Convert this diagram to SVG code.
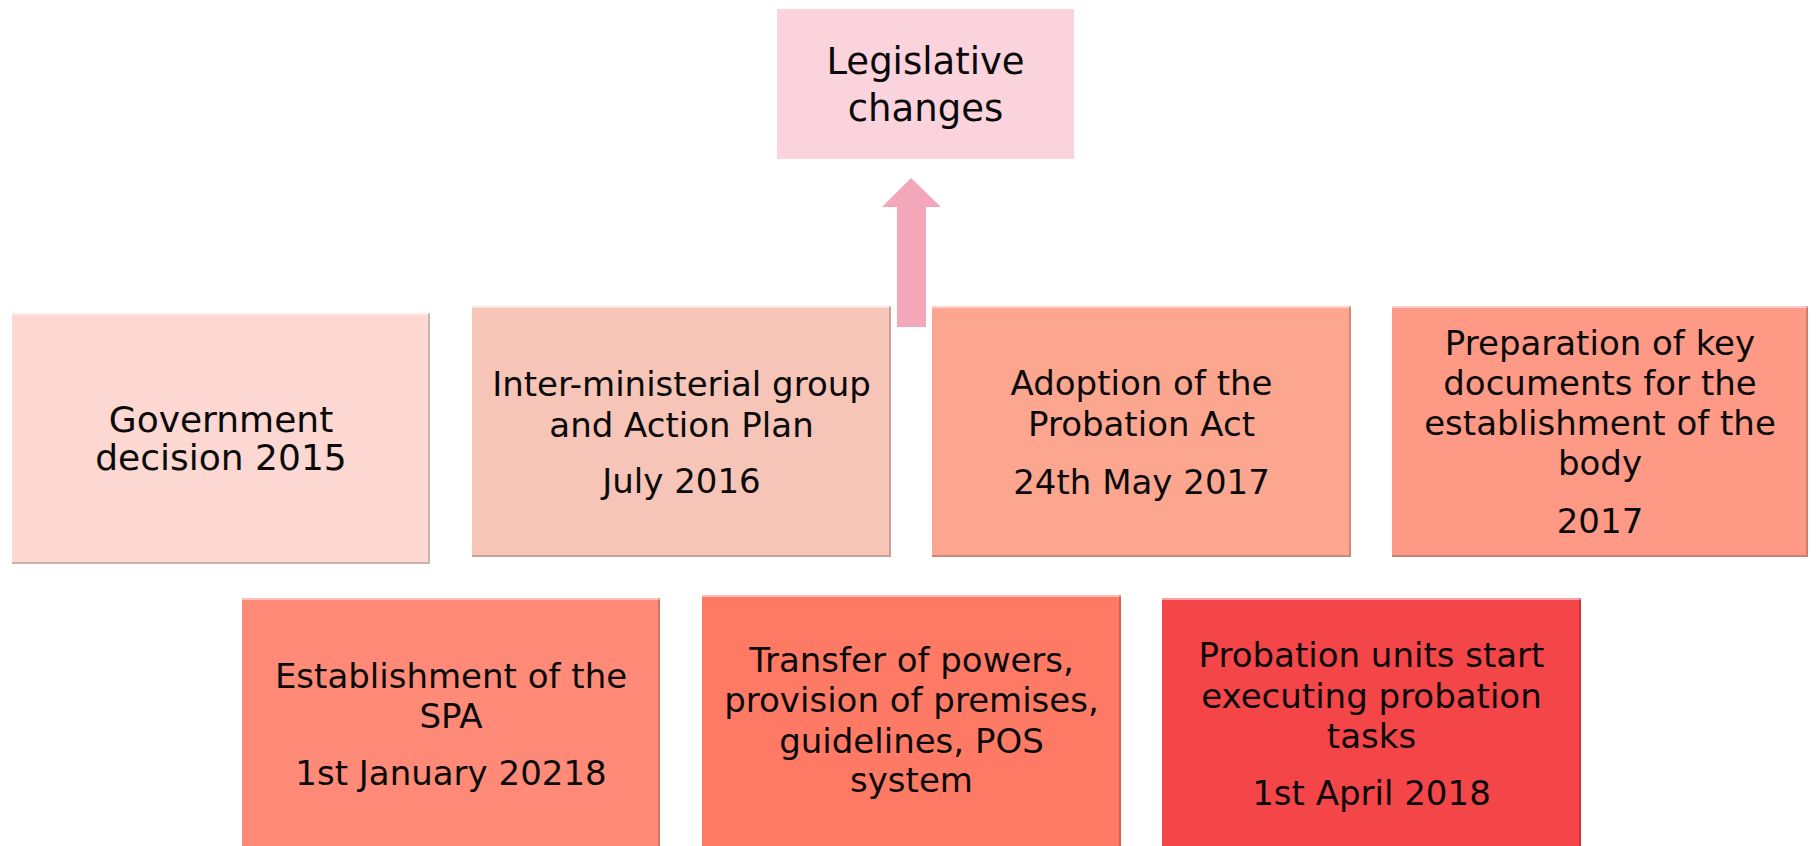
<svg xmlns="http://www.w3.org/2000/svg" width="1817" height="846" viewBox="0 0 1817 846">
<style>
  text { font-family: "DejaVu Sans", "Liberation Sans", sans-serif; font-size: 34px; fill: #0a0a0a; text-anchor: middle; }
  .big { font-size: 37px; }
  .g1 { font-size: 36px; }
  .edge { fill: none; stroke: #000; stroke-opacity: 0.18; stroke-width: 2; }
  .hl { fill: none; stroke: #fff; stroke-opacity: 0.5; stroke-width: 2; }
</style>
<rect width="1817" height="846" fill="#ffffff"/>

<g id="connectors">
  <polygon points="911,178 941,207 926,207 926,327 897,327 897,207 882,207" fill="#F4A7B9"/>
</g>

<g id="legislative">
  <rect x="777" y="9" width="297" height="150" fill="#FAD3DC"/>
  <text class="big" x="925.5" y="74">Legislative</text>
  <text class="big" x="925.5" y="121">changes</text>
</g>

<g id="gov2015">
  <rect x="12" y="313" width="418" height="251" fill="#FDD8D2"/>
  <path class="hl" d="M12,314 H430"/>
  <path class="edge" d="M429,313 V563 H12"/>
  <text class="g1" x="221" y="432">Government</text>
  <text class="g1" x="221" y="470">decision 2015</text>
</g>

<g id="interministerial">
  <rect x="472" y="306" width="419" height="251" fill="#F6C5B7"/>
  <path class="hl" d="M472,307 H891"/>
  <path class="edge" d="M890,306 V556 H472"/>
  <text x="681.5" y="396">Inter-ministerial group</text>
  <text x="681.5" y="437">and Action Plan</text>
  <text x="681.5" y="493">July 2016</text>
</g>

<g id="probationact">
  <rect x="932" y="306" width="419" height="251" fill="#FCA690"/>
  <path class="hl" d="M932,307 H1351"/>
  <path class="edge" d="M1350,306 V556 H932"/>
  <text x="1141.5" y="395">Adoption of the</text>
  <text x="1141.5" y="436">Probation Act</text>
  <text x="1141.5" y="494">24th May 2017</text>
</g>

<g id="keydocs">
  <rect x="1392" y="306" width="416" height="251" fill="#FD9985"/>
  <path class="hl" d="M1392,307 H1808"/>
  <path class="edge" d="M1807,306 V556 H1392"/>
  <text x="1600" y="355">Preparation of key</text>
  <text x="1600" y="395">documents for the</text>
  <text x="1600" y="435">establishment of the</text>
  <text x="1600" y="475">body</text>
  <text x="1600" y="533">2017</text>
</g>

<g id="spa">
  <rect x="242" y="598" width="418" height="251" fill="#FE8A77"/>
  <path class="hl" d="M242,599 H660"/>
  <path class="edge" d="M659,598 V849"/>
  <text x="451" y="688">Establishment of the</text>
  <text x="451" y="728">SPA</text>
  <text x="451" y="785">1st January 20218</text>
</g>

<g id="transfer">
  <rect x="702" y="595" width="419" height="254" fill="#FE7A65"/>
  <path class="hl" d="M702,596 H1121"/>
  <path class="edge" d="M1120,595 V849"/>
  <text x="911.5" y="672">Transfer of powers,</text>
  <text x="911.5" y="712">provision of premises,</text>
  <text x="911.5" y="753">guidelines, POS</text>
  <text x="911.5" y="792">system</text>
</g>

<g id="units">
  <rect x="1162" y="598" width="419" height="251" fill="#F44548"/>
  <path class="hl" d="M1162,599 H1581"/>
  <path class="edge" d="M1580,598 V849"/>
  <text x="1371.5" y="667">Probation units start</text>
  <text x="1371.5" y="708">executing probation</text>
  <text x="1371.5" y="748">tasks</text>
  <text x="1371.5" y="805">1st April 2018</text>
</g>
</svg>
